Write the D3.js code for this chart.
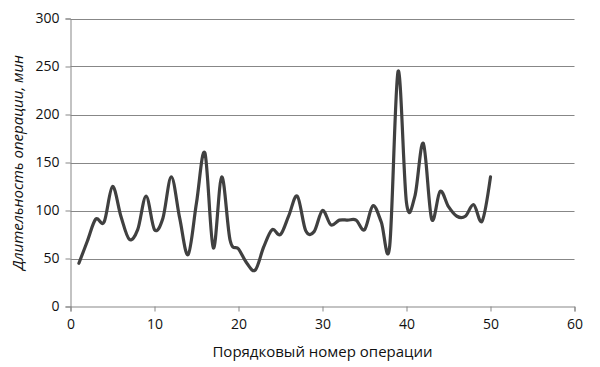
<!DOCTYPE html>
<html><head><meta charset="utf-8">
<script src="https://cdn.jsdelivr.net/npm/d3@7"></script>
<style>body{margin:0;background:#fff;} svg{display:block;}</style>
</head><body>
<svg id="chart" width="600" height="367"></svg>
<script>
const operationNumbers = d3.range(1, 51);
const durations = [45, 68, 91, 88, 125, 94, 70, 80, 115, 80,
                   92, 135, 92, 54, 108, 160, 61, 135, 69, 60,
                   45, 38, 62, 80, 75, 95, 115, 79, 78, 100,
                   85, 90, 90, 90, 80, 105, 88, 63, 245, 108,
                   115, 170, 91, 120, 104, 94, 94, 106, 89, 135];
const xTicks = [0, 10, 20, 30, 40, 50, 60];
const yTicks = [0, 50, 100, 150, 200, 250, 300];
const xTitle = "Порядковый номер операции";
const yTitle = "Длительность операции, мин";

const svg = d3.select("#chart");
const x = d3.scaleLinear().domain([0, 60]).range([70.5, 574.5]);
const y = d3.scaleLinear().domain([0, 300]).range([306.5, 18.5]);
const font = "Open Sans, Liberation Sans, sans-serif";

// gridlines
svg.append("g").selectAll("line").data(yTicks.slice(1)).join("line")
  .attr("x1", x(0)).attr("x2", x(60))
  .attr("y1", d => Math.round(y(d)) + 0.5).attr("y2", d => Math.round(y(d)) + 0.5)
  .attr("stroke", "#878787").attr("stroke-width", 1);

// axes
const yAxis = svg.append("g").attr("transform", `translate(${x(0)},0)`)
  .call(d3.axisLeft(y).tickValues(yTicks).tickSize(5).tickPadding(6));
const xAxis = svg.append("g").attr("transform", `translate(0,${y(0)})`)
  .call(d3.axisBottom(x).tickValues(xTicks).tickSize(5).tickPadding(8));
[yAxis, xAxis].forEach(a => {
  a.select(".domain").attr("stroke", "#878787");
  a.selectAll(".tick line").attr("stroke", "#878787");
  a.selectAll("text").attr("font-family", font).attr("font-size", 14).attr("fill", "#111");
});

// line
const line = d3.line()
  .x((d, i) => x(operationNumbers[i]))
  .y(d => y(d))
  .curve(d3.curveCatmullRom.alpha(0));
svg.append("path").datum(durations)
  .attr("d", line).attr("fill", "none")
  .attr("stroke", "#404040").attr("stroke-width", 3.2)
  .attr("stroke-linejoin", "round").attr("stroke-linecap", "round");

// titles
svg.append("text").attr("x", (x(0) + x(60)) / 2).attr("y", 357)
  .attr("text-anchor", "middle").attr("font-family", font).attr("font-size", 15)
  .attr("fill", "#111").text(xTitle);
svg.append("text").attr("transform", `translate(23,${(y(0) + y(300)) / 2}) rotate(-90)`)
  .attr("text-anchor", "middle").attr("font-family", font).attr("font-size", 15)
  .attr("font-style", "italic").attr("fill", "#111").text(yTitle);
</script>
</body></html>
